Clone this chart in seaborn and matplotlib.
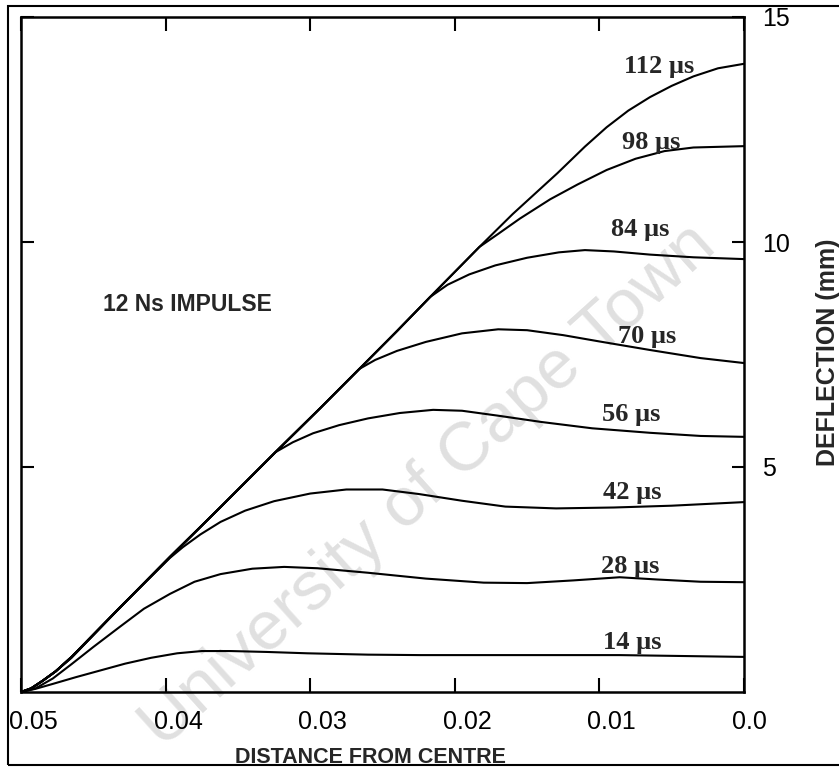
import matplotlib
matplotlib.use("Agg")
import matplotlib.pyplot as plt
from matplotlib.patches import Rectangle
from matplotlib.transforms import ScaledTranslation
import seaborn as sns

# Mid-plane deflection profiles of a plate under a 12 Ns impulse
d14_x = [0.0500, 0.0490, 0.0478, 0.0462, 0.0445, 0.0428, 0.0410, 0.0392, 0.0375, 0.0355, 0.0330, 0.0302, 0.0260, 0.0224, 0.0086, 0.0000]
d14_y = [0.00, 0.07, 0.18, 0.33, 0.48, 0.63, 0.76, 0.86, 0.91, 0.91, 0.89, 0.86, 0.83, 0.82, 0.82, 0.78]

d28_x = [0.0500, 0.0490, 0.0478, 0.0465, 0.0450, 0.0432, 0.0415, 0.0397, 0.0380, 0.0362, 0.0340, 0.0318, 0.0295, 0.0260, 0.0220, 0.0180, 0.0150, 0.0118, 0.0086, 0.0060, 0.0030, 0.0000]
d28_y = [0.00, 0.08, 0.30, 0.62, 1.00, 1.44, 1.85, 2.18, 2.45, 2.62, 2.74, 2.78, 2.75, 2.65, 2.52, 2.43, 2.42, 2.48, 2.55, 2.50, 2.45, 2.44]

d42_x = [0.0500, 0.0493, 0.0485, 0.0476, 0.0465, 0.0432, 0.0397, 0.0388, 0.0376, 0.0362, 0.0345, 0.0325, 0.0300, 0.0275, 0.0250, 0.0225, 0.0195, 0.0165, 0.0130, 0.0090, 0.0050, 0.0000]
d42_y = [0.00, 0.08, 0.25, 0.46, 0.76, 1.87, 2.98, 3.22, 3.50, 3.78, 4.03, 4.24, 4.41, 4.50, 4.50, 4.40, 4.25, 4.12, 4.08, 4.10, 4.14, 4.22]

d56_x = [0.0500, 0.0493, 0.0485, 0.0476, 0.0465, 0.0429, 0.0397, 0.0362, 0.0324, 0.0312, 0.0298, 0.0280, 0.0260, 0.0238, 0.0215, 0.0195, 0.0170, 0.0140, 0.0105, 0.0065, 0.0030, 0.0000]
d56_y = [0.00, 0.08, 0.25, 0.46, 0.78, 1.96, 3.00, 4.11, 5.33, 5.55, 5.75, 5.93, 6.08, 6.20, 6.27, 6.25, 6.14, 6.00, 5.86, 5.76, 5.69, 5.67]

d70_x = [0.0500, 0.0493, 0.0485, 0.0476, 0.0465, 0.0429, 0.0397, 0.0362, 0.0324, 0.0293, 0.0266, 0.0255, 0.0240, 0.0220, 0.0195, 0.0170, 0.0150, 0.0125, 0.0100, 0.0065, 0.0030, 0.0000]
d70_y = [0.00, 0.08, 0.25, 0.46, 0.78, 1.96, 3.00, 4.11, 5.33, 6.31, 7.18, 7.38, 7.58, 7.78, 7.97, 8.06, 8.04, 7.93, 7.79, 7.60, 7.42, 7.31]

d84_x = [0.0500, 0.0493, 0.0485, 0.0476, 0.0465, 0.0429, 0.0397, 0.0362, 0.0324, 0.0293, 0.0266, 0.0240, 0.0217, 0.0205, 0.0190, 0.0172, 0.0150, 0.0128, 0.0110, 0.0090, 0.0065, 0.0035, 0.0000]
d84_y = [0.00, 0.08, 0.25, 0.46, 0.78, 1.96, 3.00, 4.11, 5.33, 6.31, 7.18, 8.02, 8.78, 9.05, 9.28, 9.48, 9.65, 9.77, 9.82, 9.79, 9.72, 9.66, 9.62]

d98_x = [0.0500, 0.0493, 0.0485, 0.0476, 0.0465, 0.0429, 0.0397, 0.0362, 0.0324, 0.0293, 0.0266, 0.0240, 0.0217, 0.0183, 0.0170, 0.0155, 0.0134, 0.0115, 0.0095, 0.0075, 0.0055, 0.0035, 0.0000]
d98_y = [0.00, 0.08, 0.25, 0.46, 0.78, 1.96, 3.00, 4.11, 5.33, 6.31, 7.18, 8.02, 8.78, 9.89, 10.18, 10.52, 10.95, 11.28, 11.60, 11.85, 12.02, 12.10, 12.13]

d112_x = [0.0500, 0.0493, 0.0485, 0.0476, 0.0465, 0.0429, 0.0397, 0.0362, 0.0324, 0.0293, 0.0266, 0.0240, 0.0217, 0.0183, 0.0160, 0.0129, 0.0110, 0.0095, 0.0080, 0.0065, 0.0050, 0.0035, 0.0018, 0.0000]
d112_y = [0.00, 0.08, 0.25, 0.46, 0.78, 1.96, 3.00, 4.11, 5.33, 6.31, 7.18, 8.02, 8.78, 9.89, 10.62, 11.53, 12.12, 12.55, 12.92, 13.22, 13.47, 13.68, 13.86, 13.96]

series_names = ["14 µs", "28 µs", "42 µs", "56 µs", "70 µs", "84 µs", "98 µs", "112 µs"]
series_x = [d14_x, d28_x, d42_x, d56_x, d70_x, d84_x, d98_x, d112_x]
series_y = [d14_y, d28_y, d42_y, d56_y, d70_y, d84_y, d98_y, d112_y]

# where each time label sits
label_x = [0.0077, 0.0079, 0.0077, 0.0078, 0.0067, 0.0072, 0.0064, 0.0059]
label_y = [1.09, 2.80, 4.44, 6.16, 7.91, 10.27, 12.22, 13.89]

xtick_vals = [0.05, 0.04, 0.03, 0.02, 0.01, 0.0]
xtick_text = ["0.05", "0.04", "0.03", "0.02", "0.01", "0.0"]
ytick_vals = [5, 10, 15]
ytick_text = ["5", "10", "15"]

sns.set_style("ticks")
plt.rcParams["font.family"] = ["Liberation Sans", "DejaVu Sans"]

W, H = 839, 768
fig = plt.figure(figsize=(W / 100, H / 100), dpi=100)
ax = fig.add_axes([21 / W, 1 - 692 / H, (744 - 21) / W, (692 - 17) / H])

for xs, ys in zip(series_x, series_y):
    sns.lineplot(x=xs, y=ys, ax=ax, color="black", linewidth=1.5,
                 sort=False, estimator=None, zorder=3)

for name, lx, ly in zip(series_names, label_x, label_y):
    ax.text(lx, ly, name, ha="center", va="center", fontsize=19,
            fontweight="bold", family="Liberation Serif", zorder=4)

ax.text(0.0385, 8.62, "12 Ns IMPULSE", ha="center", va="center",
        fontsize=16.5, fontweight="bold", zorder=4)

ax.set_xlim(0.05, 0.0)
ax.set_ylim(0, 15)
ax.set_xticks(xtick_vals)
ax.set_xticklabels(xtick_text)
ax.set_yticks(ytick_vals)
ax.set_yticklabels(ytick_text)
ax.set_xlabel("")
ax.set_ylabel("")

ax.tick_params(axis="x", which="both", bottom=True, top=True, direction="in",
               length=10, width=1.5, pad=13, labelsize=18, colors="black")
ax.tick_params(axis="y", which="both", left=True, right=True, labelleft=False,
               labelright=True, direction="in", length=9, width=1.5, pad=13,
               labelsize=18, colors="black")
for lbl in ax.get_xticklabels():
    lbl.set_ha("left")
    lbl.set_transform(lbl.get_transform() + ScaledTranslation(-12 / 100, 0, fig.dpi_scale_trans))

for sp in ax.spines.values():
    sp.set_visible(True)
    sp.set_linewidth(1.8)
    sp.set_color("black")

# faint diagonal watermark behind the curves
ax.text(428 / W, 1 - 486 / H, "University of Cape Town", transform=fig.transFigure,
        rotation=42, rotation_mode="anchor", ha="center", va="center",
        fontsize=50, color="#e0e0e0", zorder=0.5, clip_on=False)

fig.text(235 / W, 1 - 763 / H, "DISTANCE FROM CENTRE", ha="left", va="baseline",
         fontsize=15.5, fontweight="bold")
fig.text(828 / W, 1 - 352 / H, "DEFLECTION (mm)", ha="center", va="center",
         rotation=90, fontsize=18, fontweight="bold")

fig.add_artist(Rectangle((8 / W, 3 / H), 2.0, (765 - 6) / H, transform=fig.transFigure,
                         fill=False, linewidth=1.5, edgecolor="black", clip_on=False))

fig.savefig("out.png", dpi=100, facecolor="white")
